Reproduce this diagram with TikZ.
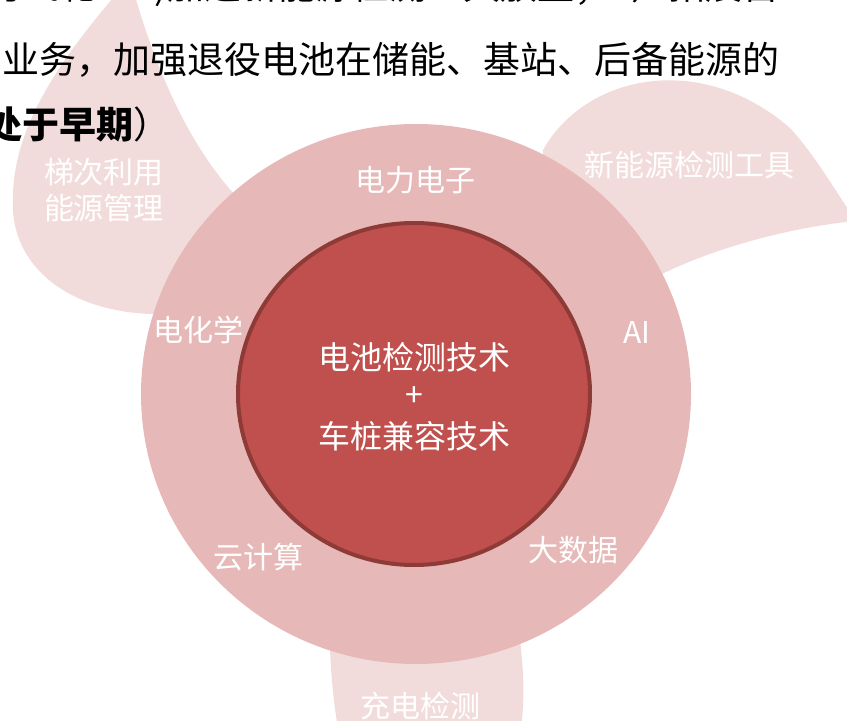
\documentclass[tikz,border=0pt]{standalone}
\usepackage{fontspec}
\setmainfont{Noto Sans CJK SC}
\definecolor{petalc}{HTML}{F2DCDB}
\definecolor{ringc}{HTML}{E6B9B8}
\definecolor{corec}{HTML}{C0504D}
\definecolor{edgec}{HTML}{8E3A37}
\begin{document}
\begin{tikzpicture}[x=0.75pt,y=-0.75pt,
  petal/.style={fill=petalc,draw=none},
  toptext/.style={anchor=west,inner sep=0pt,text=black,font=\fontsize{27.75}{30}\selectfont},
  lbl/.style={inner sep=0pt,text=white,font=\fontsize{22.5}{24}\selectfont},
  corelbl/.style={inner sep=0pt,text=white,font=\fontsize{24}{30}\selectfont,align=center}]
\useasboundingbox (0,0) rectangle (847,721);
\clip (0,0) rectangle (847,721);
% petals
\fill[petal] (130,-22) .. controls (152,60) and (185,140) .. (235,195)
  -- (320,300) -- (150,314)
  .. controls (60,310) and (10,260) .. (13,200)
  .. controls (12,120) and (72,45) .. (130,-22) -- cycle;
\fill[petal] (543,150) .. controls (585,75) and (700,50) .. (790,128)
  .. controls (815,155) and (838,195) .. (856,221)
  .. controls (800,226) and (720,245) .. (660,275)
  -- (580,300) -- (545,200) -- cycle;
\fill[petal] (330,600) -- (330,650) .. controls (332,690) and (335,720) .. (345,760)
  -- (515,760) .. controls (524,720) and (526,690) .. (520,640) -- (515,600) -- cycle;
% circles
\fill[ringc] (416,394) ellipse [x radius=206.25pt, y radius=202.5pt];
\filldraw[fill=corec,draw=edgec,line width=3pt] (414,394) ellipse [x radius=132pt, y radius=128.25pt];
% top text
\node[toptext] (t1) at (-14,-13) {务飞轮：1)加速新能源检测工具放量；2）拓展售};
\node[toptext] (t2) at (2,60) {业务，加强退役电池在储能、基站、后备能源的};
\node[toptext] (t3) at (-15,125) {{\bfseries 处于早期}）};
% petal labels
\node[lbl] (p1a) at (104,172) {梯次利用};
\node[lbl] (p1b) at (104,208) {能源管理};
\node[lbl] (p2) at (689,165) {新能源检测工具};
\node[lbl] (p3) at (420,706) {充电检测};
% ring labels
\node[lbl] (r1) at (415,180) {电力电子};
\node[lbl] (r2) at (198,330) {电化学};
\node[lbl] (r3) at (637,333) {AI};
\node[lbl] (r4) at (258,557) {云计算};
\node[lbl] (r5) at (573,550) {大数据};
% core
\node[corelbl] (c1) at (414,357) {电池检测技术};
\node[corelbl] (c2) at (414,397) {+};
\node[corelbl] (c3) at (414,436) {车桩兼容技术};
\end{tikzpicture}
\end{document}
